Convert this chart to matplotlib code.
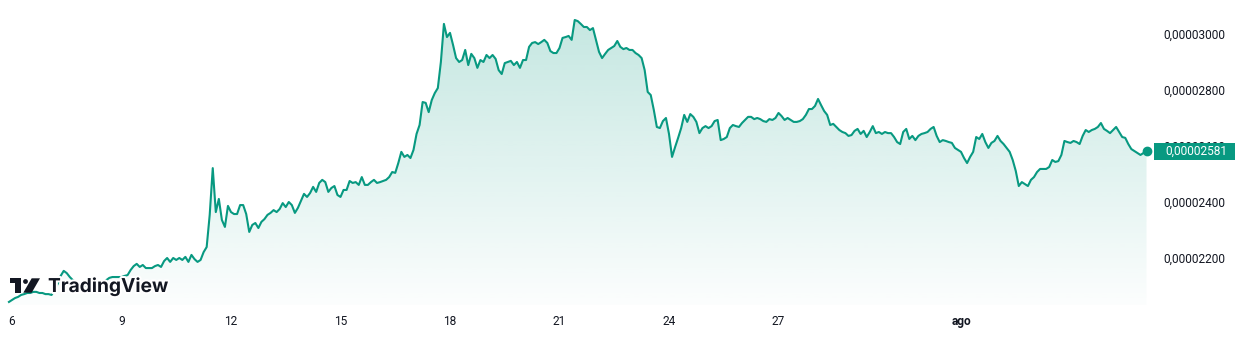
import numpy as np
import pandas as pd
import matplotlib
matplotlib.use("Agg")
import matplotlib.pyplot as plt
import matplotlib.dates as mdates
import matplotlib.patheffects as pe
from matplotlib.colors import to_rgb
from matplotlib.patches import Rectangle, Polygon, Circle
from matplotlib.transforms import IdentityTransform

# ---------------------------------------------------------------------------
# Data: 2-hourly closes, starting 2024-07-05 22:00 (prices in units of 1e-8)
# ---------------------------------------------------------------------------
series_start = "2024-07-05 22:00"
series_step = "2h"

price_jul_06_12 = [
    2043,
    2050, 2057, 2061, 2068, 2071, 2075, 2075, 2079, 2079, 2075, 2075, 2071,
    2071, 2068, 2086, 2107, 2136, 2154, 2146, 2132, 2121, 2114, 2104, 2104,
    2100, 2096, 2096, 2093, 2096, 2104, 2111, 2121, 2129, 2132, 2132, 2132,
    2132, 2136, 2139, 2157, 2171, 2179, 2168, 2175, 2164, 2164, 2164, 2171,
    2175, 2168, 2189, 2200, 2186, 2200, 2193, 2200, 2193, 2204, 2186, 2211,
    2196, 2186, 2193, 2221, 2239, 2354, 2521, 2364, 2411, 2336, 2311, 2386,
    2364, 2357, 2357, 2389, 2389, 2357, 2293, 2318, 2325, 2307, 2329, 2339,
]
price_jul_13_19 = [
    2354, 2361, 2371, 2364, 2375, 2396, 2382, 2400, 2389, 2361, 2379, 2404,
    2429, 2418, 2432, 2454, 2436, 2468, 2479, 2471, 2436, 2450, 2457, 2425,
    2418, 2443, 2443, 2475, 2468, 2471, 2461, 2489, 2461, 2461, 2471, 2479,
    2468, 2471, 2475, 2479, 2489, 2507, 2504, 2539, 2579, 2561, 2568, 2557,
    2586, 2643, 2675, 2757, 2754, 2721, 2764, 2789, 2807, 2900, 3036, 2989,
    3004, 2961, 2914, 2900, 2907, 2943, 2889, 2929, 2914, 2879, 2907, 2900,
    2925, 2914, 2925, 2911, 2871, 2857, 2896, 2900, 2904, 2889, 2900, 2879,
]
price_jul_20_26 = [
    2907, 2907, 2954, 2968, 2971, 2964, 2971, 2979, 2968, 2939, 2932, 2932,
    2950, 2986, 2989, 2993, 2979, 3050, 3046, 3036, 3025, 3025, 3014, 3021,
    2979, 2936, 2914, 2929, 2943, 2950, 2957, 2975, 2954, 2946, 2950, 2943,
    2943, 2932, 2925, 2914, 2871, 2793, 2782, 2729, 2668, 2664, 2689, 2700,
    2643, 2561, 2596, 2629, 2664, 2711, 2686, 2714, 2704, 2686, 2646, 2664,
    2671, 2664, 2671, 2689, 2693, 2621, 2625, 2632, 2664, 2675, 2671, 2668,
    2682, 2693, 2704, 2704, 2696, 2700, 2696, 2689, 2686, 2696, 2693, 2700,
]
price_jul_27_aug_02 = [
    2718, 2707, 2693, 2700, 2693, 2686, 2686, 2689, 2696, 2711, 2732, 2732,
    2743, 2768, 2746, 2725, 2711, 2675, 2679, 2668, 2657, 2650, 2646, 2636,
    2639, 2654, 2661, 2643, 2654, 2632, 2650, 2671, 2646, 2650, 2643, 2650,
    2646, 2646, 2632, 2614, 2607, 2650, 2661, 2625, 2636, 2621, 2636, 2643,
    2646, 2650, 2661, 2668, 2636, 2614, 2621, 2618, 2614, 2611, 2593, 2586,
    2579, 2557, 2539, 2561, 2579, 2632, 2625, 2643, 2614, 2593, 2611, 2618,
    2636, 2618, 2607, 2593, 2579, 2550, 2511, 2457, 2471, 2464, 2457, 2479,
]
price_aug_03_06 = [
    2489, 2507, 2518, 2518, 2518, 2525, 2550, 2543, 2546, 2568, 2618, 2614,
    2611, 2618, 2614, 2607, 2636, 2657, 2650, 2657, 2661, 2668, 2682, 2661,
    2654, 2646, 2657, 2668, 2650, 2632, 2629, 2607, 2589, 2582, 2575, 2568,
    2575, 2581,
]

tick_dates = ["2024-07-06", "2024-07-09", "2024-07-12", "2024-07-15", "2024-07-18",
              "2024-07-21", "2024-07-24", "2024-07-27", "2024-08-01"]
tick_labels = ["6", "9", "12", "15", "18", "21", "24", "27", "ago"]
price_ticks_e8 = [2200, 2400, 2600, 2800, 3000]

# ---------------------------------------------------------------------------
price = np.array(price_jul_06_12 + price_jul_13_19 + price_jul_20_26
                 + price_jul_27_aug_02 + price_aug_03_06, dtype=float) * 1e-8
times = pd.date_range(series_start, periods=len(price), freq=series_step)
t = mdates.date2num(times.to_pydatetime())

LINE = "#089981"
TEXT = "#131722"
W, H, DPI = 1235, 343, 100
FONT = "Roboto"
FS = 8.6

fig = plt.figure(figsize=(W / DPI, H / DPI), dpi=DPI, facecolor="white")
plot_right_px, plot_bottom_px = 1152, 305
ax = fig.add_axes([0, (H - plot_bottom_px) / H, plot_right_px / W, plot_bottom_px / H])
ax.set_facecolor("white")

day0 = mdates.date2num(pd.Timestamp("2024-07-06").to_pydatetime())
px_per_day = 36.5
ax.set_xlim(day0 - 12 / px_per_day, day0 + (plot_right_px - 12) / px_per_day)
ax.set_ylim(2032.1e-8, 3121.4e-8)
ymin, ymax = ax.get_ylim()
xmin, xmax = ax.get_xlim()

# gradient area under the line
grad = np.zeros((256, 1, 4))
grad[..., :3] = to_rgb(LINE)
grad[:, 0, 3] = np.linspace(0.25, 0.015, 256)
im = ax.imshow(grad, extent=[xmin, xmax, ymin, ymax], aspect="auto",
               origin="upper", zorder=1, interpolation="bilinear")
area = ax.fill_between(t, price, ymin, facecolor="none", edgecolor="none")
im.set_clip_path(area.get_paths()[0], transform=ax.transData)

ax.plot(t, price, color=LINE, lw=1.5, solid_joinstyle="round", zorder=3)
ax.plot(t[-1], price[-1], "o", ms=6, color=LINE, zorder=4)

for s in ax.spines.values():
    s.set_visible(False)

# x axis
ax.set_xticks(mdates.date2num(pd.to_datetime(tick_dates).to_pydatetime()))
ax.set_xticklabels(tick_labels)
ax.tick_params(axis="x", length=0, pad=7, labelsize=FS, labelcolor=TEXT)
for lab in ax.get_xticklabels():
    lab.set_fontfamily(FONT)
ax.get_xticklabels()[-1].set_fontweight("bold")

# y axis on the right
ax.yaxis.tick_right()
ax.set_yticks(np.array(price_ticks_e8) * 1e-8)
ax.set_yticklabels([f"{v * 1e-8:.8f}".replace(".", ",") for v in price_ticks_e8])
ax.tick_params(axis="y", length=0, pad=8, labelsize=FS, labelcolor=TEXT)
for lab in ax.get_yticklabels():
    lab.set_fontfamily(FONT)
    lab.set_horizontalalignment("left")

# last-price tag
fig.canvas.draw()
y_last = ax.transData.transform((t[-1], price[-1]))[1]
tag = Rectangle((plot_right_px + 2, y_last - 8.5), 81, 17, transform=IdentityTransform(),
                facecolor=LINE, edgecolor="none", zorder=10)
fig.add_artist(tag)
fig.text(plot_right_px + 13, y_last, f"{price[-1]:.8f}".replace(".", ","),
         transform=IdentityTransform(), color="white", fontsize=FS, family=FONT,
         va="center", ha="left", zorder=11)

# watermark logo
halo = [pe.withStroke(linewidth=3, foreground="white")]
for patch in [
    Rectangle((10, H - 283.3), 10.7, 5.0),
    Rectangle((15, H - 292.7), 5.7, 14.4),
    Circle((25.5, H - 281.5), 2.4),
    Polygon([(31.7, H - 278.3), (40.0, H - 278.3), (31.7, H - 292.7), (23.3, H - 292.7)]),
]:
    patch.set_transform(IdentityTransform())
    patch.set_facecolor(TEXT)
    patch.set_edgecolor("none")
    patch.set_zorder(12)
    fig.add_artist(patch)
fig.text(48, H - 292, "TradingView", transform=IdentityTransform(), fontsize=13.8,
         family="Inter", fontweight="bold", color=TEXT, va="baseline", ha="left",
         zorder=12, path_effects=halo)

fig.savefig("out.png", dpi=DPI, facecolor="white")
